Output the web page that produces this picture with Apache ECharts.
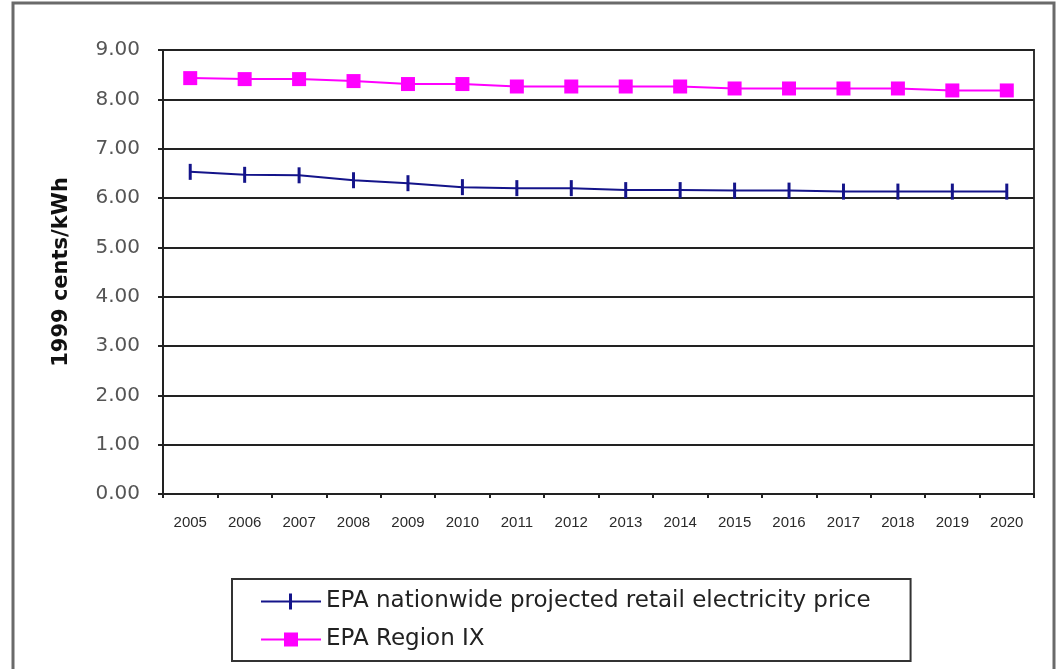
<!DOCTYPE html>
<html lang="en">
<head>
  <meta charset="UTF-8">
  <title>Projected retail electricity price</title>
  <script src="https://cdn.jsdelivr.net/npm/echarts@6/dist/echarts.min.js"></script>
  <style>
    html, body { margin: 0; padding: 0; background: #fff; }
    #chart { width: 1057px; height: 669px; }
  </style>
</head>
<body>
<div id="chart"></div>
<script>
  // data
  const years = ['2005', '2006', '2007', '2008', '2009', '2010', '2011', '2012',
                 '2013', '2014', '2015', '2016', '2017', '2018', '2019', '2020'];
  const nationwide = [6.53, 6.47, 6.46, 6.36, 6.30, 6.22, 6.20, 6.20,
                      6.16, 6.16, 6.15, 6.15, 6.13, 6.13, 6.13, 6.13];
  const regionIX = [8.43, 8.41, 8.41, 8.37, 8.31, 8.31, 8.26, 8.26,
                    8.26, 8.26, 8.22, 8.22, 8.22, 8.22, 8.18, 8.18];

  const wide = "'DejaVu Sans', Verdana, sans-serif";
  const arial = "'Liberation Sans', Arial, sans-serif";

  // legend keys drawn as line + marker in one path (60 x 16 box)
  const plusKey = 'path://M0,7 H60 V9 H0 Z M28,0 H31 V16 H28 Z';
  const squareKey = 'path://M0,7 H60 V9 H0 Z M23,1 H37 V15 H23 Z';

  const chart = echarts.init(document.getElementById('chart'));

  chart.setOption({
    animation: false,
    backgroundColor: '#fff',
    graphic: [{
      type: 'rect',
      shape: { x: 13, y: 3, width: 1041, height: 690 },
      style: { fill: 'none', stroke: '#6a6a6a', lineWidth: 3 },
      z: -1
    }],
    grid: {
      left: 163, right: 23, top: 50, bottom: 175,
      show: true, borderColor: '#333', borderWidth: 2, backgroundColor: '#fff'
    },
    legend: {
      orient: 'vertical',
      left: 232, top: 579,
      padding: [10, 40, 9, 29],
      borderColor: '#333', borderWidth: 2,
      itemGap: 13,
      itemWidth: 60, itemHeight: 16,
      textStyle: { fontFamily: wide, fontSize: 23, lineHeight: 25, color: '#222' },
      data: [
        { name: 'EPA nationwide projected retail electricity price', icon: plusKey },
        { name: 'EPA Region IX', icon: squareKey }
      ]
    },
    xAxis: {
      type: 'category',
      data: years,
      boundaryGap: true,
      axisLine: { lineStyle: { color: '#222', width: 2 } },
      axisTick: { show: true, length: 4, lineStyle: { color: '#222', width: 2 } },
      axisLabel: { fontFamily: arial, fontSize: 15, color: '#2a2a2a', margin: 21, interval: 0 }
    },
    yAxis: {
      type: 'value',
      min: 0, max: 9, interval: 1,
      name: '1999 cents/kWh',
      nameLocation: 'middle',
      nameGap: 91,
      nameTextStyle: { fontFamily: wide, fontSize: 21, fontWeight: 'bold', color: '#111' },
      axisLine: { show: true, lineStyle: { color: '#222', width: 2 } },
      axisTick: { show: true, length: 5, lineStyle: { color: '#222', width: 2 } },
      axisLabel: {
        fontFamily: wide, fontSize: 20, color: '#555', margin: 23,
        formatter: v => v.toFixed(2)
      },
      splitLine: { lineStyle: { color: '#222', width: 2 } }
    },
    series: [{
      name: 'EPA nationwide projected retail electricity price',
      type: 'line',
      data: nationwide,
      color: '#14148a',
      lineStyle: { width: 2, color: '#14148a' },
      symbol: 'rect',
      symbolSize: [3, 16],
      itemStyle: { color: '#14148a' }
    }, {
      name: 'EPA Region IX',
      type: 'line',
      data: regionIX,
      color: '#ff00ff',
      lineStyle: { width: 2, color: '#ff00ff' },
      symbol: 'rect',
      symbolSize: 14,
      itemStyle: { color: '#ff00ff' }
    }]
  });
</script>
</body>
</html>
